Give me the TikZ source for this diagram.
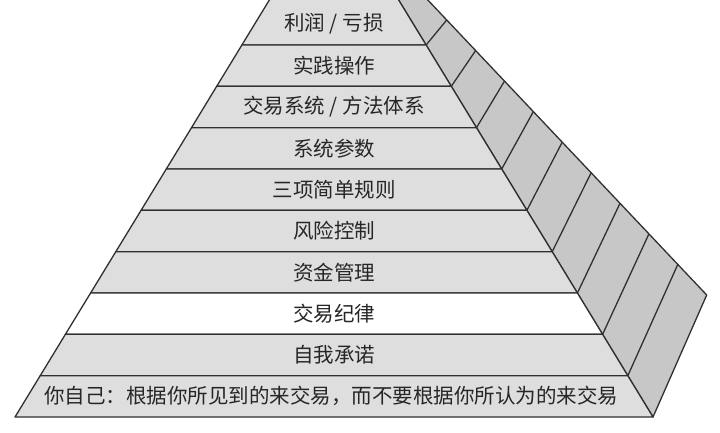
\documentclass[tikz,border=0pt]{standalone}
\usepackage{fontspec}
\setmainfont{Noto Sans CJK SC}
\definecolor{bandgray}{RGB}{222,222,222}
\definecolor{sidegray}{RGB}{199,199,199}
\definecolor{edgegray}{RGB}{48,48,48}
\definecolor{inkgray}{RGB}{38,38,38}

\begin{document}
\begin{tikzpicture}[x=1pt,y=-1pt,
    band/.style={fill=bandgray, draw=edgegray, line width=1.3pt, line join=round},
    lbl/.style={font=\fontsize{20.5}{24}\selectfont, text=inkgray, inner sep=0pt}]
    \useasboundingbox (0,0) rectangle (720,432);
    \clip (0,0) rectangle (720,432);
    % side face of the pyramid
    \filldraw[fill=sidegray, draw=edgegray, line width=1.3pt, line join=round] (395.6,-5) -- (653,417) -- (706.7,295) -- (423.1,-5) -- cycle;
    \draw[edgegray, line width=1.3pt] (426.1,45) -- (446.7,20);
    \draw[edgegray, line width=1.3pt] (451.3,86.3) -- (475.6,50.6);
    \draw[edgegray, line width=1.3pt] (476.5,127.7) -- (504.5,81.1);
    \draw[edgegray, line width=1.3pt] (501.7,169) -- (533.3,111.7);
    \draw[edgegray, line width=1.3pt] (526.9,210.3) -- (562.2,142.2);
    \draw[edgegray, line width=1.3pt] (552.2,251.7) -- (591.1,172.8);
    \draw[edgegray, line width=1.3pt] (577.4,293) -- (620.0,203.3);
    \draw[edgegray, line width=1.3pt] (602.6,334.3) -- (648.9,233.9);
    \draw[edgegray, line width=1.3pt] (627.8,375.7) -- (677.8,264.4);
    % front bands, top to bottom
    \draw[band] (272.4,-5) -- (395.6,-5) -- (426.1,45) -- (241.9,45) -- cycle;
    \draw[band] (241.9,45) -- (426.1,45) -- (451.3,86.3) -- (216.7,86.3) -- cycle;
    \draw[band] (216.7,86.3) -- (451.3,86.3) -- (476.5,127.7) -- (191.5,127.7) -- cycle;
    \draw[band] (191.5,127.7) -- (476.5,127.7) -- (501.7,169) -- (166.3,169) -- cycle;
    \draw[band] (166.3,169) -- (501.7,169) -- (526.9,210.3) -- (141.1,210.3) -- cycle;
    \draw[band] (141.1,210.3) -- (526.9,210.3) -- (552.2,251.7) -- (115.8,251.7) -- cycle;
    \draw[band] (115.8,251.7) -- (552.2,251.7) -- (577.4,293) -- (90.6,293) -- cycle;
    \draw[band, fill=white] (90.6,293) -- (577.4,293) -- (602.6,334.3) -- (65.4,334.3) -- cycle;
    \draw[band] (65.4,334.3) -- (602.6,334.3) -- (627.8,375.7) -- (40.2,375.7) -- cycle;
    \draw[band] (40.2,375.7) -- (627.8,375.7) -- (653,417) -- (15,417) -- cycle;
    % labels
    \node[lbl] (profit) at (334,24) {利润 / 亏损};
    \node[lbl] (practice) at (334,65.7) {实践操作};
    \node[lbl] (method) at (334,107) {交易系统 / 方法体系};
    \node[lbl] (params) at (334,148.3) {系统参数};
    \node[lbl] (rules) at (334,189.7) {三项简单规则};
    \node[lbl] (risk) at (334,231) {风险控制};
    \node[lbl] (money) at (334,272.3) {资金管理};
    \node[lbl] (discipline) at (334,313.7) {交易纪律};
    \node[lbl] (commit) at (334,355) {自我承诺};
    \node[lbl] (yourself) at (331,396.3) {你自己：根据你所见到的来交易，而不要根据你所认为的来交易};
\end{tikzpicture}
\end{document}
